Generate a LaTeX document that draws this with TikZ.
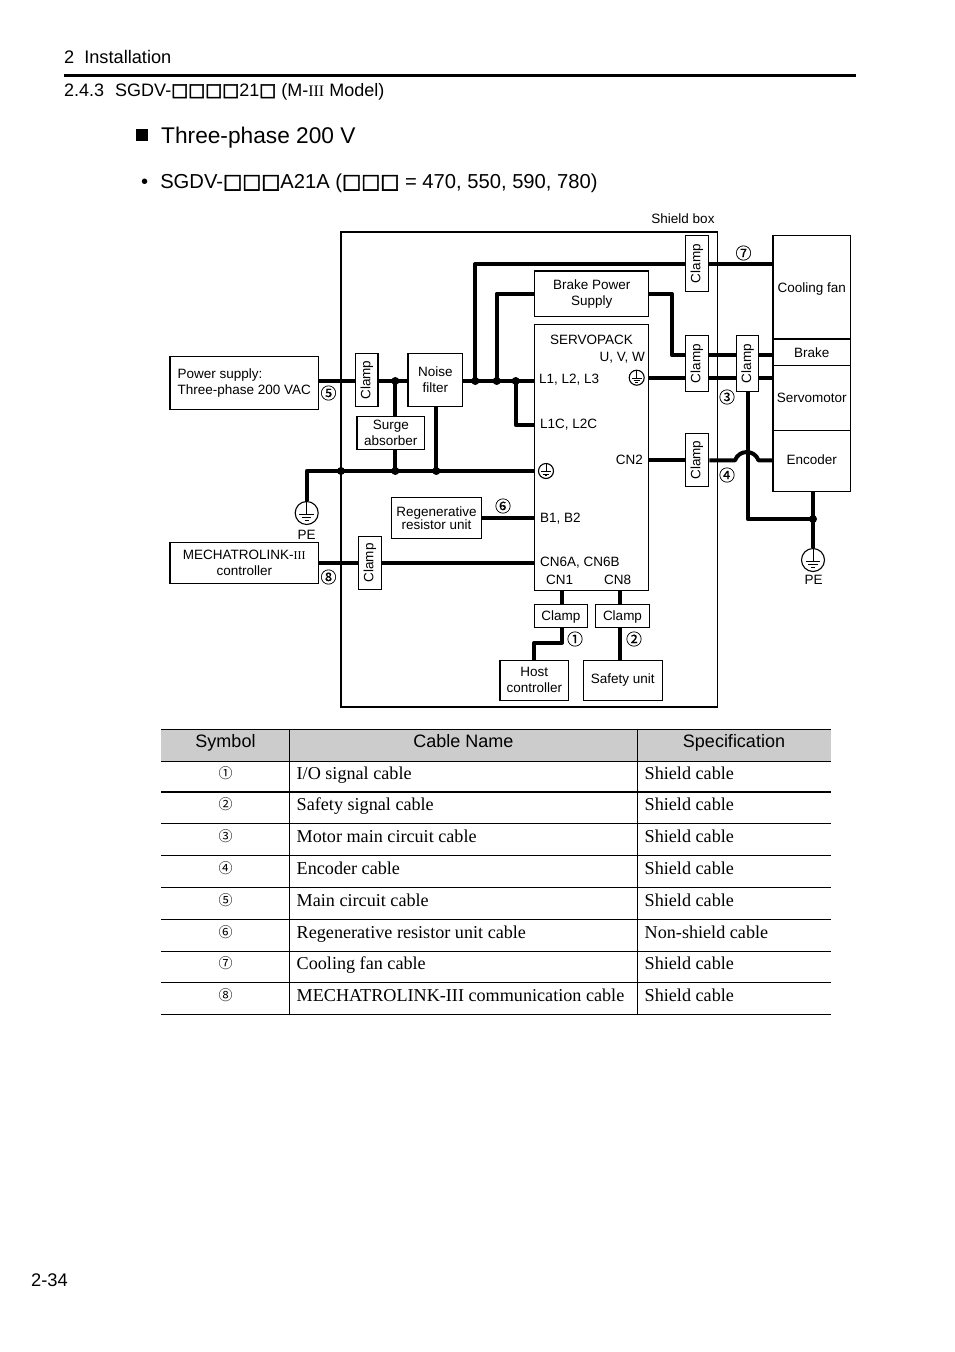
\documentclass[tikz,border=0pt]{standalone}
\usepackage{fontspec}
\setmainfont{Liberation Sans}
\newfontfamily\tabfont{Liberation Serif}
\newfontfamily\circfont{Noto Sans CJK JP}
\newfontfamily\numfont[FakeBold=0.25]{Noto Sans CJK JP}
\newfontfamily\sqfont[FakeBold=2.5]{DejaVu Sans}
\newcommand\sq{{\sqfont\char"25A1}}
\newcommand\vclamp{\rotatebox{90}{Clamp}}
\newcommand\fs[2]{\fontsize{#1}{#2}\selectfont}
\tikzset{
  box/.style={draw,line width=1.1,fill=white,inner sep=0,align=center,font=\fs{13.5}{16}},
  txt/.style={inner sep=0,font=\fs{13.5}{16}},
  page/.style={inner sep=0,anchor=base west},
  cable/.style={line width=4,line join=round},
  dot/.style={circle,fill,inner sep=0,minimum size=8},
  num/.style={inner sep=0,font=\numfont\fs{16}{16}},
  earth/.style={circle,draw,line width=1.1,minimum size=#1,inner sep=0,path picture={
    \begin{scope}[shift={(path picture bounding box.center)},x=#1 pt,y=-#1 pt]
      \draw[line width=1] (0,-.5) -- (0,.06);
      \draw[line width=1] (-.32,.06) -- (.32,.06);
      \draw[line width=1] (-.2,.2) -- (.2,.2);
      \draw[line width=1] (-.09,.33) -- (.09,.33);
    \end{scope}}},
}
\begin{document}
\begin{tikzpicture}[x=1pt,y=-1pt]
\useasboundingbox (0,0) rectangle (954,1352);

% page heading
\node[page,font=\fs{18.2}{20}] (chap) at (64,63) {2\hspace{10pt}Installation};
\draw[line width=3] (64,75) -- (856,75);
\node[page,font=\fs{18}{20}] (sect) at (64,96) {2.4.3\hspace{11pt}SGDV-\sq\sq\sq\sq21\sq{} (M-{\tabfont\fs{16}{20}III} Model)};
\fill (136,129) rectangle (148,141);
\node[page,font=\fs{22.7}{26}] (title) at (161,143) {Three-phase 200 V};
\node[page,font=\fs{20.2}{24}] (model) at (141,188) {•\hspace{12pt}SGDV-\sq\sq\sq A21A (\sq\sq\sq{} = 470, 550, 590, 780)};
\node[page,font=\fs{18.3}{20}] (pageno) at (31,1286) {2-34};

% shield box
\node[draw,line width=1.4,minimum width=376.7,minimum height=475,inner sep=0] (shield) at (529.35,469.5) {};
\node[txt] (shieldlbl) at (683,218.5) {Shield box};

% blocks
\node[box,minimum width=148.7,minimum height=52.3,align=left] (psu) at (244.3,383) {Power supply:\\Three-phase 200 VAC};
\node[box,minimum width=148.7,minimum height=40.6] (mech) at (244.3,563) {MECHATROLINK-{\tabfont\fs{12}{16}III}\\controller};
\node[box,minimum width=22.3,minimum height=53] (clamp5) at (366.8,380.2) {\vclamp};
\node[box,minimum width=22.6,minimum height=53] (clamp8) at (370,562.8) {\vclamp};
\node[box,minimum width=54.7,minimum height=53] (noise) at (435.3,379.7) {Noise\\filter};
\node[box,minimum width=67.7,minimum height=33] (surge) at (390.8,433) {Surge\\absorber};
\node[box,minimum width=90.4,minimum height=41,font=\fs{13.5}{13}] (regen) at (436.5,517.8) {Regenerative\\resistor unit};
\node[box,minimum width=114,minimum height=45.3] (brakepw) at (591.7,293.6) {Brake Power\\Supply};
\node[box,line width=1.5,minimum width=114,minimum height=265.6] (servopack) at (591.7,457.5) {};
\node[box,minimum width=23.4,minimum height=55.6] (clamp7) at (697,263.5) {\vclamp};
\node[box,minimum width=23.4,minimum height=55.6] (clampm) at (697,363.5) {\vclamp};
\node[box,minimum width=22,minimum height=55.6] (clamp3) at (747.7,363.5) {\vclamp};
\node[box,minimum width=23.4,minimum height=53.4] (clampe) at (697,460) {\vclamp};
\node[box,minimum width=53,minimum height=22.6,text depth=0pt] (clamp1) at (560.8,616) {Clamp};
\node[box,line width=1.5,minimum width=53.6,minimum height=22.6,text depth=0pt] (clamp2) at (622.5,616) {Clamp};
\node[box,minimum width=68.7,minimum height=40] (host) at (534.35,680.3) {Host\\controller};
\node[box,line width=1.5,minimum width=79,minimum height=40] (safety) at (622.8,680.3) {Safety unit};
\node[box,minimum width=77.7,minimum height=103.3,text depth=0pt] (fan) at (811.85,287.35) {Cooling fan};
\node[box,minimum width=77.7,minimum height=64.6] (motor) at (811.85,398) {Servomotor};
\node[box,line width=1.4,minimum width=77.7,minimum height=26.7] (brake) at (811.85,352.35) {Brake};
\node[box,minimum width=77.7,minimum height=61,text depth=3pt] (encoder) at (811.85,460.8) {Encoder};
\node[earth=23] (peL) at (306.7,513) {};
\node[earth=23] (peR) at (813,560) {};
\node[earth=15] (gndU) at (636.7,377.7) {};
\node[earth=15] (gndB) at (546,471) {};

% servopack terminals
\node[txt] (lblsp) at (591.5,339.5) {SERVOPACK};
\node[txt,anchor=east] (lbluvw) at (645,358) {U, V, W};
\node[txt,anchor=west] (lbll1) at (539,379.5) {L1, L2, L3};
\node[txt,anchor=west] (lbll1c) at (540,424.5) {L1C, L2C};
\node[txt,anchor=east] (lblcn2) at (643,459.5) {CN2};
\node[txt,anchor=west] (lblb1) at (540,518.5) {B1, B2};
\node[txt,anchor=west] (lblcn6) at (540,562.5) {CN6A, CN6B};
\node[txt,anchor=west] (lblcn1) at (546,579.5) {CN1};
\node[txt,anchor=west] (lblcn8) at (604,579.5) {CN8};
\node[txt] (lblpeL) at (306.7,534.5) {PE};
\node[txt] (lblpeR) at (813.5,579.5) {PE};

% cable numbers
\node[num] (n1) at (575,639) {①};
\node[num] (n2) at (634,639) {②};
\node[num] (n3) at (727,397) {③};
\node[num] (n4) at (727,475) {④};
\node[num] (n5) at (328.5,393) {⑤};
\node[num] (n6) at (503,506) {⑥};
\node[num] (n7) at (743.5,253) {⑦};
\node[num] (n8) at (328.5,577) {⑧};

% junctions and bends
\coordinate (jsurge) at (395.3,381);
\coordinate (jfan) at (475.3,381);
\coordinate (jbrk) at (496.7,381);
\coordinate (jctl) at (515.7,381);
\coordinate (kshield) at (341,471);
\coordinate (ksurge) at (395.3,471);
\coordinate (knoise) at (436.3,471);
\coordinate (jpe) at (813,519);
\coordinate (fanrow) at (475.3,264);
\coordinate (ctlrow) at (515.7,425);
\coordinate (brkrow) at (671.7,355);
\coordinate (motrow) at (671.7,378);
\coordinate (encrow) at (671.7,460.3);
\coordinate (hopa) at (735,460.3);
\coordinate (hopb) at (758.5,460.3);
\coordinate (cnone) at (562,642.7);
\coordinate (cneight) at (620.3,642.7);

% cables
\draw[cable] (psu.east |- jsurge) -- (clamp5.west |- jsurge);
\draw[cable] (clamp5.east |- jsurge) -- (noise.west |- jsurge);
\draw[cable] (noise.east |- jsurge) -- (servopack.west |- jsurge);
\draw[cable] (jsurge) -- (surge.north -| jsurge);
\draw[cable] (surge.south -| jsurge) -- (ksurge);
\draw[cable] (noise.south -| knoise) -- (knoise);
\draw[cable] (peL.north) |- (gndB.west -| servopack.west);
\draw[cable] (jfan) |- (clamp7.west |- fanrow);
\draw[cable] (clamp7.east |- fanrow) -- (fan.west |- fanrow);
\draw[cable] (jbrk) |- (brakepw.west);
\draw[cable] (jctl) |- (servopack.west |- ctlrow);
\draw[cable] (brakepw.east) -| (brkrow) -- (clampm.west |- brkrow);
\draw[cable] (clampm.east |- brkrow) -- (clamp3.west |- brkrow);
\draw[cable] (clamp3.east |- brkrow) -- (brake.west |- brkrow);
\draw[cable] (servopack.east |- motrow) -- (clampm.west |- motrow);
\draw[cable] (clampm.east |- motrow) -- (clamp3.west |- motrow);
\draw[cable] (clamp3.east |- motrow) -- (motor.west |- motrow);
\draw[cable] (servopack.east |- encrow) -- (clampe.west |- encrow);
\draw[cable] (clampe.east |- encrow) -- (hopa) .. controls +(4,-11) and +(-4,-11) .. (hopb) -- (encoder.west |- encrow);
\draw[cable] (clamp3.south) |- (jpe);
\draw[cable] (encoder.south -| jpe) -- (peR.north);
\draw[cable] (regen.east) -- (servopack.west |- regen.east);
\draw[cable] (mech.east) -- (clamp8.west |- mech.east);
\draw[cable] (clamp8.east |- mech.east) -- (servopack.west |- mech.east);
\draw[cable] (servopack.south -| cnone) -- (clamp1.north -| cnone);
\draw[cable] (clamp1.south -| cnone) -- (cnone) -| (host.north);
\draw[cable] (servopack.south -| cneight) -- (clamp2.north -| cneight);
\draw[cable] (clamp2.south -| cneight) -- (safety.north -| cneight);
\foreach \j in {jsurge,jfan,jbrk,jctl,kshield,ksurge,knoise,jpe}
  \node[dot] (dot\j) at (\j) {};

% cable table
\fill[black!20] (161,729) rectangle (831,761);
\foreach \y/\w in {729/1,761/1,792/1.8,823.5/1,855.5/1,887.5/1,919.5/1,951/1,982.5/1,1014.5/1}
  \draw[line width=\w] (161,\y) -- (831,\y);
\draw[line width=1] (289.5,729) -- (289.5,1014.5);
\draw[line width=1] (637.5,729) -- (637.5,1014.5);
\node[inner sep=0,anchor=base,font=\fs{18}{20}] (hsym) at (225.5,747) {Symbol};
\node[inner sep=0,anchor=base,font=\fs{18}{20}] (hname) at (463.5,747) {Cable Name};
\node[inner sep=0,anchor=base,font=\fs{18}{20}] (hspec) at (734,747) {Specification};
\foreach \y/\s/\cname/\cspec [count=\i] in {
  773/①/{I/O signal cable}/Shield cable,
  804/②/Safety signal cable/Shield cable,
  836/③/Motor main circuit cable/Shield cable,
  868/④/Encoder cable/Shield cable,
  900/⑤/Main circuit cable/Shield cable,
  932/⑥/Regenerative resistor unit cable/Non-shield cable,
  963/⑦/Cooling fan cable/Shield cable,
  995/⑧/MECHATROLINK-III communication cable/Shield cable}{
  \node[inner sep=0,font=\circfont\fs{14}{14}] (sym\i) at (225.5,\y) {\s};
  \node[inner sep=0,anchor=base west,font=\tabfont\fs{18.15}{20}] (name\i) at (296.5,\y+6.2) {\cname};
  \node[inner sep=0,anchor=base west,font=\tabfont\fs{18.15}{20}] (spec\i) at (644.5,\y+6.2) {\cspec};
}
\end{tikzpicture}
\end{document}
